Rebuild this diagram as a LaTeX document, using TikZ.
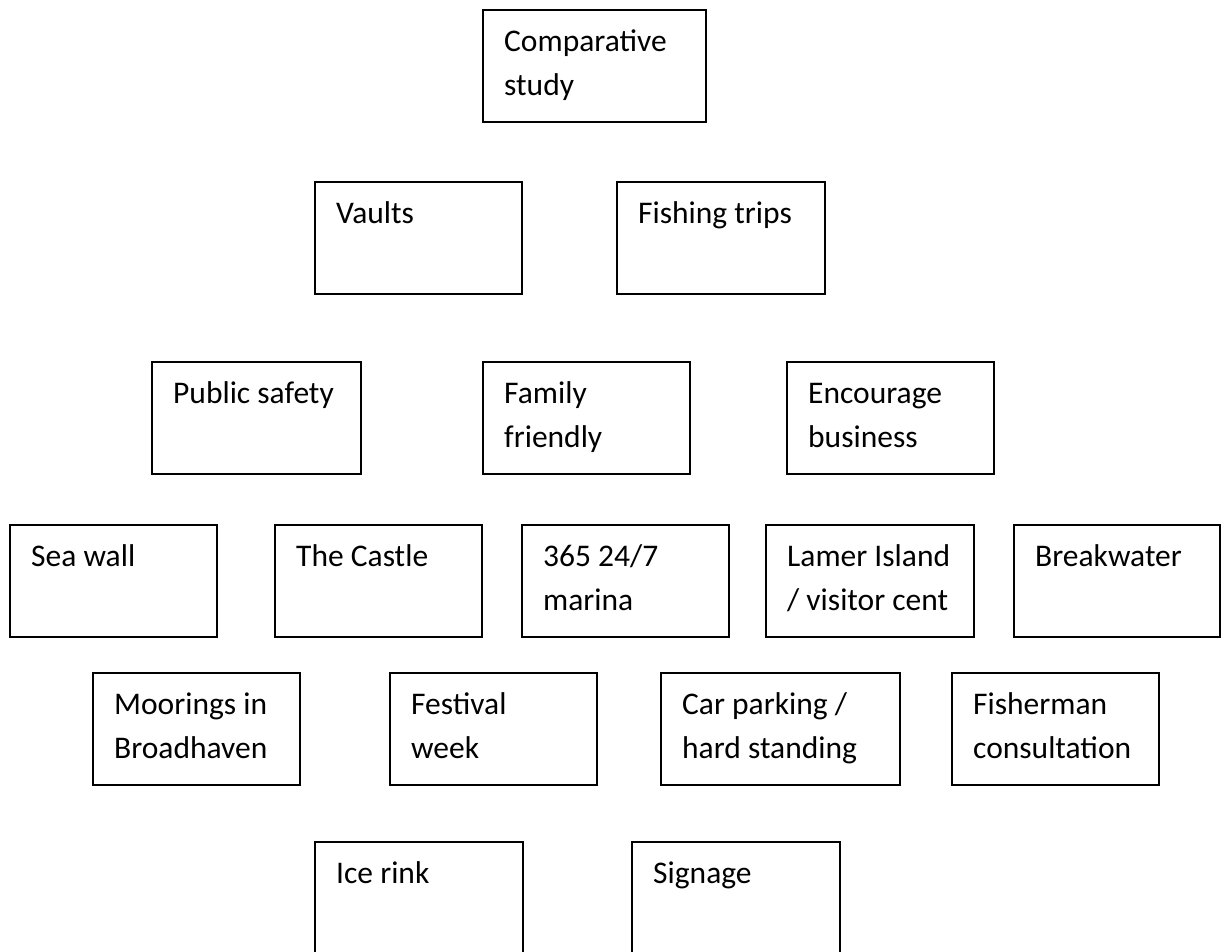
\documentclass[tikz,border=0pt]{standalone}
\usepackage{fontspec}
\setmainfont{Carlito}
\tikzset{
  box/.style={draw=black, line width=1.5pt, fill=none, inner sep=0pt, outer sep=0pt,
              anchor=north west, minimum height=112pt},
  lbl/.style={anchor=base west, inner sep=0pt, text=black,
              font=\fontsize{31.5}{44}\selectfont}
}
\newcommand{\mkbox}[6]{%
  \node[box, minimum width=#4pt] (#1) at (#2,#3) {};
  \node[lbl] (#1-a) at ([xshift=21pt,yshift=-41pt]#1.north west) {#5};
  \node[lbl] (#1-b) at ([xshift=21pt,yshift=-85pt]#1.north west) {#6};
}
\begin{document}
\begin{tikzpicture}[x=1pt,y=-1pt]
\useasboundingbox (0,0) rectangle (1221,951);
\clip (0,0) rectangle (1221,951);
\fill[white] (0,0) rectangle (1221,951);
\mkbox{comp}{483}{10}{223}{Comparative}{study}
\mkbox{vaults}{315}{182}{207}{Vaults}{}
\mkbox{fishing}{617}{182}{208}{Fishing trips}{}
\mkbox{public}{152}{362}{209}{Public safety}{}
\mkbox{family}{483}{362}{207}{Family}{friendly}
\mkbox{encourage}{787}{362}{207}{Encourage}{business}
\mkbox{seawall}{10}{525}{207}{Sea wall}{}
\mkbox{castle}{275}{525}{207}{The Castle}{}
\mkbox{marina}{522}{525}{207}{365 24/7}{marina}
\mkbox{lamer}{766}{525}{208}{Lamer Island}{/ visitor cent}
\mkbox{breakwater}{1014}{525}{206}{Breakwater}{}
\mkbox{moorings}{93}{673}{207}{Moorings in}{Broadhaven}
\mkbox{festival}{390}{673}{207}{Festival}{week}
\mkbox{carpark}{661}{673}{239}{Car parking /}{hard standing}
\mkbox{fisherman}{952}{673}{207}{Fisherman}{consultation}
\mkbox{ice}{315}{842}{208}{Ice rink}{}
\mkbox{signage}{632}{842}{208}{Signage}{}
\end{tikzpicture}
\end{document}
